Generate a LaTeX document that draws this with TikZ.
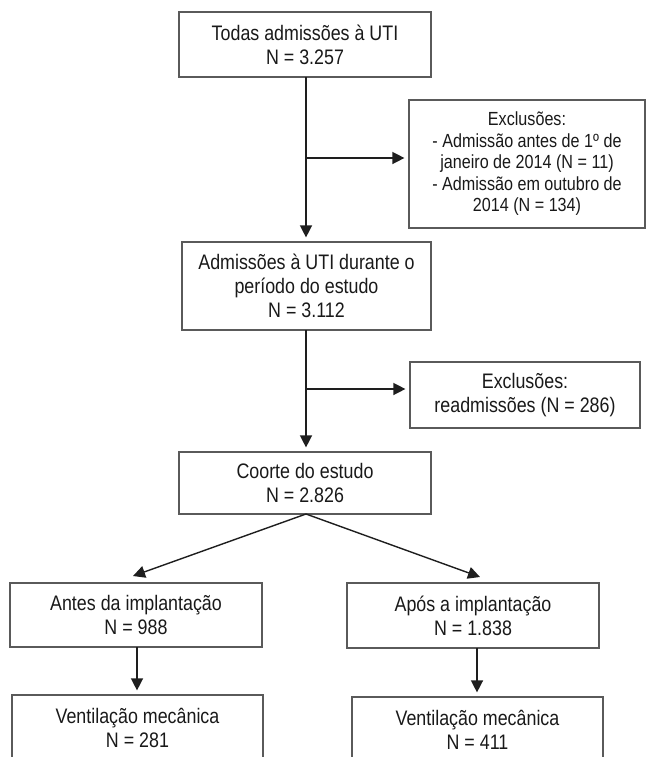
\documentclass[tikz,border=0pt]{standalone}
\usepackage{fontspec}
\setmainfont[FakeStretch=0.85]{Liberation Sans}
\usetikzlibrary{arrows.meta,calc}
\definecolor{boxline}{RGB}{90,90,90}
\definecolor{arrowline}{RGB}{30,30,30}
\definecolor{txt}{RGB}{25,25,25}
\tikzset{
  flowbox/.style={draw=boxline, line width=1.2pt, inner sep=0pt, align=center,
    text=txt, font=\fontsize{21}{24}\selectfont},
  smallbox/.style={flowbox, font=\fontsize{19}{21.5}\selectfont},
  flowarrow/.style={draw=arrowline, line width=1.4pt, -{Triangle[length=12pt,width=12pt]}},
  gaparrow/.style={flowarrow, shorten >=4pt}
}
\begin{document}
\begin{tikzpicture}[x=1pt,y=-1pt]
\useasboundingbox (0,0) rectangle (646,757);
\clip (0,0) rectangle (646,757);
\node[flowbox, minimum width=252, minimum height=65] (top) at (305,44.5)
  {Todas admissões à UTI\\N = 3.257};
\node[smallbox, minimum width=236, minimum height=128] (exc1) at (527,164)
  {Exclusões:\\- Admissão antes de 1º de\\janeiro de 2014 (N = 11)\\- Admissão em outubro de\\2014 (N = 134)};
\node[flowbox, minimum width=249, minimum height=88] (mid) at (306.5,286)
  {Admissões à UTI durante o\\período do estudo\\N = 3.112};
\node[flowbox, minimum width=230, minimum height=66] (exc2) at (525,395)
  {Exclusões:\\readmissões (N = 286)};
\node[flowbox, minimum width=252, minimum height=62] (coorte) at (305,483)
  {Coorte do estudo\\N = 2.826};
\node[flowbox, minimum width=252, minimum height=64] (antes) at (136,615)
  {Antes da implantação\\N = 988};
\node[flowbox, minimum width=252, minimum height=65] (apos) at (473,615.5)
  {Após a implantação\\N = 1.838};
\node[flowbox, minimum width=251, minimum height=65] (ventL) at (137.5,727.5)
  {Ventilação mecânica\\N = 281};
\node[flowbox, minimum width=251, minimum height=65] (ventR) at (477.5,729.5)
  {Ventilação mecânica\\N = 411};
% vertical main flow
\coordinate (s1) at (306,77);
\coordinate (b1) at (306,158);
\coordinate (s2) at (306,330);
\coordinate (b2) at (306,389);
\draw[gaparrow] (s1) -- (s1 |- mid.north);
\draw[gaparrow] (b1) -- (b1 -| exc1.west);
\draw[gaparrow] (s2) -- (s2 |- coorte.north);
\draw[gaparrow] (b2) -- (b2 -| exc2.west);
% split
\coordinate (cs) at (306,514);
\coordinate (tipL) at (133,576);
\coordinate (tipR) at (480,577);
\draw[flowarrow] (cs) -- (tipL);
\draw[flowarrow] (cs) -- (tipR);
\coordinate (aL) at (137,647);
\coordinate (aR) at (477,648);
\draw[gaparrow] (aL) -- (aL |- ventL.north);
\draw[gaparrow] (aR) -- (aR |- ventR.north);
\end{tikzpicture}
\end{document}
